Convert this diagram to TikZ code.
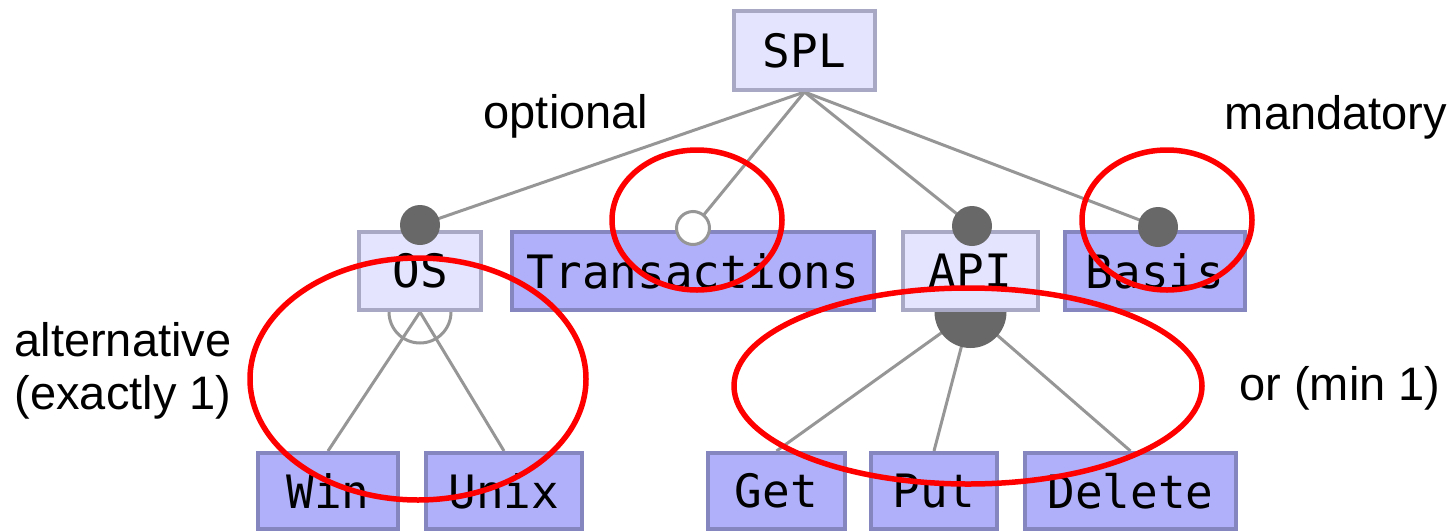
\documentclass[tikz,border=0pt]{standalone}
\usepackage{fontspec}
\setmainfont{Liberation Sans}
\newfontfamily\featfont{DejaVu Sans Mono}
\definecolor{absfill}{RGB}{228,228,255}
\definecolor{absborder}{RGB}{168,168,196}
\definecolor{concfill}{RGB}{176,176,250}
\definecolor{concborder}{RGB}{133,133,192}
\definecolor{dotgray}{RGB}{104,104,104}
\definecolor{edgegray}{RGB}{150,150,150}
\pgfdeclarelayer{bg}
\pgfsetlayers{bg,main}
\begin{document}
\begin{tikzpicture}[x=1pt,y=-1pt,
  feature/.style={rectangle, line width=4pt, inner sep=0pt,
    font=\featfont\fontsize{46}{46}\selectfont},
  abstractf/.style={feature, draw=absborder, fill=absfill},
  concretef/.style={feature, draw=concborder, fill=concfill},
  rowtwo/.style={minimum height=78pt},
  rowthree/.style={minimum height=76pt},
  edge/.style={draw=edgegray, line width=3pt},
  mandot/.style={circle, fill=dotgray, minimum size=40pt, inner sep=0pt},
  optdot/.style={circle, draw=edgegray, fill=white, line width=3pt,
    minimum size=33pt, inner sep=0pt},
  remark/.style={font=\fontsize{47}{53}\selectfont, align=center, inner sep=0pt},
  redring/.style={draw=red, line width=5.5pt}
]
\useasboundingbox (0,0) rectangle (1452,531);

% feature boxes
\node[abstractf, minimum width=141pt, minimum height=79pt] (spl) at (804.5,50.5) {SPL};

\node[abstractf, rowtwo, minimum width=122pt] (os)    at (420,271)   {OS};
\node[concretef, rowtwo, minimum width=362pt] (trans) at (693,271)   {Transactions};
\node[abstractf, rowtwo, minimum width=135pt] (api)   at (970.5,271) {API};
\node[concretef, rowtwo, minimum width=180pt] (basis) at (1155,271)  {Basis};

\node[concretef, rowthree, minimum width=140pt] (win)  at (328,491)    {Win};
\node[concretef, rowthree, minimum width=156pt] (unix) at (504,491)    {Unix};
\node[concretef, rowthree, minimum width=137pt] (get)  at (776.5,491)  {Get};
\node[concretef, rowthree, minimum width=126pt] (put)  at (934,491)    {Put};
\node[concretef, rowthree, minimum width=211pt] (del)  at (1130.5,491) {Delete};

% mandatory / optional markers on top of the boxes
\node[mandot] (osdot)    at (420,225)  {};
\node[optdot] (transdot) at (693,228)  {};
\node[mandot] (apidot)   at (972,226)  {};
\node[mandot] (basisdot) at (1158,227) {};

% connectors and group symbols, behind the boxes
\begin{pgfonlayer}{bg}
  \draw[edge] (spl.south) -- (osdot.center);
  \draw[edge] (spl.south) -- (transdot.center);
  \draw[edge] (spl.south) -- (apidot.center);
  \draw[edge] (spl.south) -- (basisdot.center);

  \draw[edge] (os.south) -- (win.north);
  \draw[edge] (os.south) -- (unix.north);
  \draw[edge] (os.south) circle[radius=31pt];

  \draw[edge] (api.south) -- (get.north);
  \draw[edge] (api.south) -- (put.north);
  \draw[edge] (api.south) -- (del.north);
  \fill[dotgray] (api.south) circle[radius=36pt];
\end{pgfonlayer}

% explanatory labels
\node[remark] (optlbl) at (566,116)  {optional};
\node[remark] (manlbl) at (1336,117) {mandatory};
\node[remark] (altlbl) at (123,371)  {alternative\\(exactly 1)};
\node[remark] (orlbl)  at (1340,388) {or (min 1)};

% red highlight rings
\draw[redring] (697,220)  ellipse[x radius=85pt,  y radius=70pt];
\draw[redring] (1167,220) ellipse[x radius=85pt,  y radius=70pt];
\draw[redring] (418,379)  ellipse[x radius=168pt, y radius=121pt];
\draw[redring] (968,386)  ellipse[x radius=234pt, y radius=98pt];
\end{tikzpicture}
\end{document}
